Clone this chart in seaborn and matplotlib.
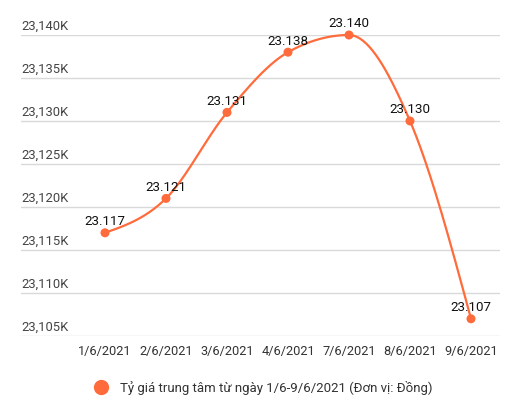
import numpy as np
import matplotlib
matplotlib.use("Agg")
import matplotlib.pyplot as plt
import seaborn as sns
from matplotlib.lines import Line2D

# ---------- data ----------
dates = ["1/6/2021", "2/6/2021", "3/6/2021", "4/6/2021", "7/6/2021", "8/6/2021", "9/6/2021"]
rates = [23117, 23121, 23131, 23138, 23140, 23130, 23107]
y_ticks = [23105, 23110, 23115, 23120, 23125, 23130, 23135, 23140]
series_name = "Tỷ giá trung tâm từ ngày 1/6-9/6/2021 (Đơn vị: Đồng)"

color = "#ff6b3b"

sns.set_style("white")
plt.rcParams["font.family"] = ["Roboto", "DejaVu Sans"]


def monotone_curve(x, y, n=40):
    # d3 curveMonotoneX style smoothing
    x = np.asarray(x, float)
    y = np.asarray(y, float)
    h = np.diff(x)
    s = np.diff(y) / h
    t = np.zeros_like(y)
    for i in range(1, len(y) - 1):
        p = (s[i - 1] * h[i] + s[i] * h[i - 1]) / (h[i - 1] + h[i])
        t[i] = (np.sign(s[i - 1]) + np.sign(s[i])) * min(abs(s[i - 1]), abs(s[i]), 0.5 * abs(p))
    t[0] = (3 * s[0] - t[1]) / 2
    t[-1] = (3 * s[-1] - t[-2]) / 2
    xs, ys = [], []
    for i in range(len(h)):
        u = np.linspace(0, 1, n)
        h00 = 2 * u**3 - 3 * u**2 + 1
        h10 = u**3 - 2 * u**2 + u
        h01 = -2 * u**3 + 3 * u**2
        h11 = u**3 - u**2
        xs.append(x[i] + u * h[i])
        ys.append(h00 * y[i] + h10 * h[i] * t[i] + h01 * y[i + 1] + h11 * h[i] * t[i + 1])
    return np.concatenate(xs), np.concatenate(ys)


fig = plt.figure(figsize=(5.1, 4.1), dpi=100)
ax = fig.add_axes([21 / 510, 73 / 410, 479 / 510, 301 / 410])

xpos = np.arange(len(dates))
cx, cy = monotone_curve(xpos, rates)
ax.plot(cx, cy, color=color, lw=1.6, clip_on=False, zorder=2)
sns.scatterplot(x=xpos, y=rates, color=color, s=42, edgecolor="none",
                ax=ax, zorder=3, clip_on=False)

for x, v in zip(xpos, rates):
    ax.annotate(f"{v / 1000:.3f}", (x, v), xytext=(0, 4), textcoords="offset points",
                ha="center", va="bottom", fontsize=9.6, color="#111111", zorder=4)

# x positions: first category at px 105, step 61
ax.set_xlim((21 - 105) / 61, (500 - 105) / 61)
ax.set_ylim(23105, 23140)

ax.set_xticks(xpos)
ax.set_xticklabels(dates, fontsize=9.2, color="#333333")
ax.tick_params(axis="x", length=0, pad=6)

ax.set_yticks(y_ticks)
ax.set_yticklabels([])
ax.tick_params(axis="y", length=0)
for v in y_ticks:
    ax.annotate(f"{v:,}K", (0, v), xycoords=("axes fraction", "data"),
                xytext=(0, 2.5), textcoords="offset points",
                ha="left", va="bottom", fontsize=9.4, color="#444444")

ax.grid(axis="y", color="#d9d9d9", lw=1)
ax.grid(axis="x", visible=False)
for sp in ax.spines.values():
    sp.set_visible(False)

handle = Line2D([], [], marker="o", linestyle="none", markersize=11,
                markerfacecolor=color, markeredgecolor="none")
fig.legend([handle], [series_name], loc="center", bbox_to_anchor=(0.51, 0.053),
           frameon=False, fontsize=9.5, handletextpad=0.5, labelcolor="#333333")

fig.savefig("out.png", dpi=100)
